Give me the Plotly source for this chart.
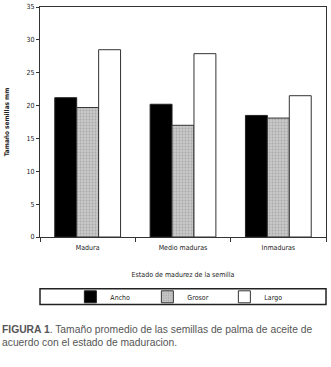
import plotly.graph_objects as go

categories = ["Madura", "Medio maduras", "Inmaduras"]
ancho = [21.2, 20.2, 18.5]
grosor = [19.7, 17.0, 18.1]
largo = [28.5, 27.9, 21.5]
y_ticks = [0, 5, 10, 15, 20, 25, 30, 35]

FONT = "DejaVu Sans Condensed, Liberation Sans Narrow, Arial Narrow, sans-serif"

fig = go.Figure()
fig.add_bar(x=categories, y=ancho, name="Ancho",
            marker=dict(color="black", line=dict(color="#222", width=1)))
fig.add_bar(x=categories, y=grosor, name="Grosor",
            marker=dict(color="#b8b8b8", line=dict(color="#333", width=1),
                        pattern=dict(shape=".", fgcolor="#8a8a8a", bgcolor="#c8c8c8", size=3, solidity=0.3)))
fig.add_bar(x=categories, y=largo, name="Largo",
            marker=dict(color="white", line=dict(color="#333", width=1)))

fig.update_layout(
    width=331, height=367,
    margin=dict(l=40, r=5, t=7, b=130, autoexpand=False),
    plot_bgcolor="white", paper_bgcolor="white",
    barmode="group", bargap=0.31, bargroupgap=0,
    font=dict(family=FONT, size=7, color="#222"),
    showlegend=True,
    legend=dict(orientation="h", x=0.51, xanchor="center", y=-0.26, yanchor="middle",
                font=dict(size=7, color="#222"), entrywidth=32, bgcolor="rgba(0,0,0,0)"),
    xaxis=dict(showline=True, linecolor="#333", linewidth=1, mirror=True,
               ticks="outside", tickson="boundaries", ticklen=4, tickcolor="#333",
               tickfont=dict(size=7, color="#222"), ticklabelstandoff=4,
               title=dict(text="Estado de madurez de la semilla", font=dict(size=7, color="#222"), standoff=20)),
    yaxis=dict(range=[0, 35], tickvals=y_ticks, showline=True, linecolor="#333", linewidth=1,
               mirror=True, ticks="outside", ticklen=3, tickcolor="#333", showgrid=False,
               zeroline=False, tickfont=dict(size=7, color="#222"),
               title=dict(text="<b>Tamaño semillas mm</b>", font=dict(size=6.5, color="#222"), standoff=16)),
    shapes=[dict(type="rect", xref="paper", yref="paper", x0=0, x1=1, y0=-0.294, y1=-0.225,
                 line=dict(color="#222", width=1.5), fillcolor="rgba(0,0,0,0)")],
    annotations=[dict(xref="paper", yref="paper", x=-0.14, y=-0.368, xanchor="left", yanchor="top",
                      align="left", showarrow=False,
                      text="<b>FIGURA 1</b>. Tamaño promedio de las semillas de palma de aceite de<br>acuerdo con el estado de maduracion.",
                      font=dict(family="Liberation Sans, Arial, sans-serif", size=10.3, color="#555"))],
)

fig.write_html("out.html", config={"displayModeBar": False},
               post_script="document.body.style.margin='0';")
